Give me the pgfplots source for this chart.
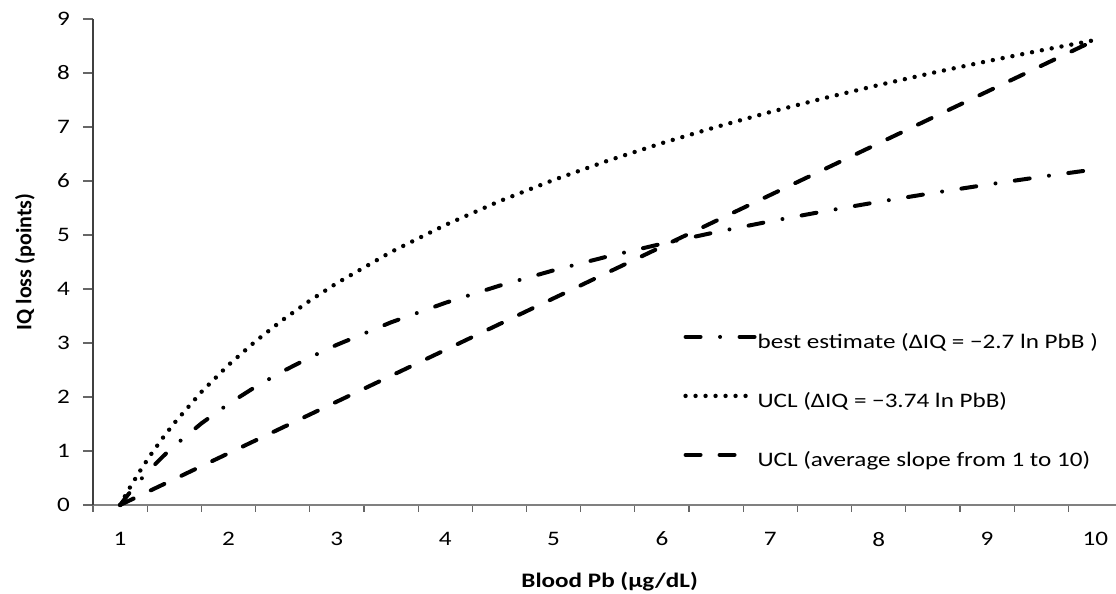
\documentclass[border=0pt]{standalone}
\usepackage{fontspec}
\setmainfont{Carlito}[FakeStretch=1.22, BoldFont={Carlito Bold}]
\newfontfamily\plainfont{Carlito}[BoldFont={Carlito Bold}]
\usepackage{pgfplots}
\pgfplotsset{compat=1.18}
\pgfplotsset{
    leglen/.style={legend image code/.code={\draw[##1] (0pt,3pt) -- (#1,3pt);}}
}

% IQ loss vs blood lead: 2.7 ln x, 3.74 ln x and the straight UCL line
\pgfplotstableread{
x    best    ucl
1    0       0
1.05 0.1317  0.1825
1.1  0.2573  0.3565
1.2  0.4923  0.6819
1.3  0.7084  0.9812
1.4  0.9085  1.2584
1.5  1.0948  1.5165
1.75 1.5110  2.0930
2    1.8715  2.5924
2.25 2.1895  3.0329
2.5  2.4740  3.4269
2.75 2.7313  3.7834
3    2.9662  4.1088
3.5  3.3825  4.6853
4    3.7430  5.1847
4.5  4.0610  5.6253
5    4.3455  6.0193
5.5  4.6028  6.3758
6    4.8378  6.7012
6.5  5.0539  7.0005
7    5.2540  7.2777
7.5  5.4402  7.5357
8    5.6145  7.7771
8.5  5.7782  8.0039
9    5.9325  8.2176
9.5  6.0785  8.4198
10   6.2170  8.6117
}\curves

\begin{document}
\begin{tikzpicture}
\begin{axis}[
    scale only axis,
    width=511.5pt, height=243pt,
    xmin=0.75, xmax=10.19,
    ymin=0, ymax=9,
    clip=false,
    axis x line=bottom, axis y line=left,
    x axis line style={-, draw=black!50, line width=1.2pt},
    y axis line style={-, draw=black!75, line width=0.7pt},
    xtick={1,...,10}, ytick={0,...,9},
    minor xtick={0.75,1.25,...,9.75},
    tick align=outside,
    major tick length=5pt, minor tick length=3.5pt,
    major x tick style={draw=none},
    minor x tick style={draw=black!60, line width=0.6pt},
    major y tick style={draw=black!60, line width=0.6pt},
    /pgf/number format/assume math mode=true,
    tick label style={font=\fontsize{10.3}{12}\selectfont},
    xticklabel style={anchor=north, yshift=-5pt},
    yticklabel style={anchor=east, xshift=-3pt},
    xlabel={Blood Pb (μg/dL)},
    ylabel={IQ loss (points)},
    every axis x label/.style={at={(axis description cs:0.505,-0.157)}, anchor=center,
        font=\fontsize{10.3}{12}\selectfont\bfseries},
    every axis y label/.style={at={(axis description cs:-0.0665,0.5)}, anchor=center, rotate=90,
        font=\plainfont\fontsize{11}{13}\selectfont\bfseries},
    legend style={at={(axis description cs:0.5767,0.3545)}, anchor=north west,
        draw=none, fill=none, inner sep=0pt, row sep=19.7pt, column sep=0.5pt,
        font=\fontsize{10.3}{12}\selectfont,
        nodes={inner sep=0pt, text height=7.5pt, text depth=2.3pt}},
    legend cell align=left,
    leglen=34.5pt,
]
\addplot[black, line width=2pt, line cap=round,
    dash pattern=on 7.5pt off 9.75pt on 0pt off 9.75pt] table[x=x, y=best] {\curves};
\addlegendentry{best estimate (ΔIQ = −2.7 ln PbB )}

\addplot[black, line width=2.2pt, line cap=round,
    dash pattern=on 0pt off 5pt, leglen=30pt] table[x=x, y=ucl] {\curves};
\addlegendentry{UCL (ΔIQ = −3.74 ln PbB)}

\addplot[black, line width=2pt, line cap=round,
    dash pattern=on 7.5pt off 9.5pt, leglen=24.5pt] coordinates {
    (1,0) (10,8.6117)
};
\addlegendentry{UCL (average slope from 1 to 10)}
\end{axis}
\pgfresetboundingbox
\path[use as bounding box] (-46.5pt,-44.5pt) rectangle (511.5pt,252.5pt);
\end{tikzpicture}
\end{document}
